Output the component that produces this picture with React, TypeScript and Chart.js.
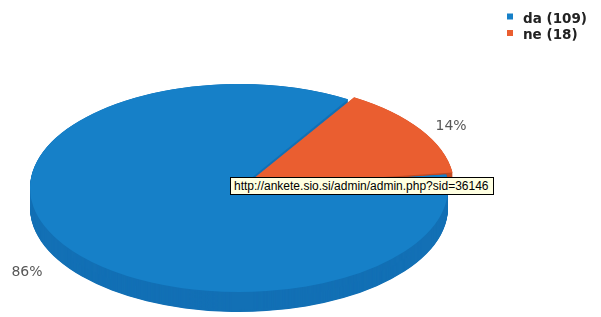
import React, { useEffect, useRef } from "react";
import { Chart, registerables } from "chart.js";

Chart.register(...registerables);

const categories = ["da", "ne"];
const values = [109, 18];
const topColors = ["#1680C8", "#EA5E30"];
const sideColors = ["#1370B5", "#C24B24"];
const tooltipText = "http://ankete.sio.si/admin/admin.php?sid=36146";

const CX = 239;
const CY = 188;
const RX = 209;
const RY = 104;
const DEPTH = 20;
const S = RY / RX;

function effOffset(arc: any) {
  const off = (arc.options.offset || 0) / 4;
  const circ = arc.endAngle - arc.startAngle;
  const fix = 1 - Math.sin(Math.min(Math.PI, circ || 0));
  return off + off * fix;
}

const pie3d = {
  id: "pie3d",
  beforeDatasetsDraw(chart: any) {
    const ctx = chart.ctx;
    const meta = chart.getDatasetMeta(0);
    const a0 = meta.data[0];
    ctx.save();
    ctx.translate(CX, CY);
    ctx.scale(1, S);
    ctx.translate(-a0.x, -a0.y);
    const depthU = DEPTH / S;
    for (let i = meta.data.length - 1; i >= 0; i--) {
      const arc = meta.data[i];
      const half = (arc.startAngle + arc.endAngle) / 2;
      const eo = effOffset(arc);
      const ox = Math.cos(half) * eo;
      const oy = Math.sin(half) * eo;
      ctx.fillStyle = sideColors[i];
      for (let d = depthU; d > 0; d -= 1) {
        ctx.beginPath();
        ctx.moveTo(arc.x + ox, arc.y + oy + d);
        ctx.arc(arc.x + ox, arc.y + oy + d, arc.outerRadius, arc.startAngle, arc.endAngle);
        ctx.closePath();
        ctx.fill();
      }
    }
  },
  afterDatasetsDraw(chart: any) {
    chart.ctx.restore();
  },
  afterDraw(chart: any) {
    const ctx = chart.ctx;
    const meta = chart.getDatasetMeta(0);
    const total = values.reduce((a, b) => a + b, 0);
    ctx.save();
    ctx.font = "14px 'DejaVu Sans'";
    ctx.fillStyle = "#585858";
    ctx.textAlign = "center";
    ctx.textBaseline = "middle";
    meta.data.forEach((arc: any, i: number) => {
      const mid = (arc.startAngle + arc.endAngle) / 2;
      const x = CX + Math.cos(mid) * RX * 1.21;
      const y = CY + Math.sin(mid) * RY * 1.08 + (Math.sin(mid) > 0 ? DEPTH + 3 : 0);
      ctx.fillText(Math.round((values[i] / total) * 100) + "%", x, y);
    });
    // legend
    ctx.textAlign = "left";
    ctx.textBaseline = "alphabetic";
    ctx.font = "bold 13.5px 'DejaVu Sans'";
    categories.forEach((c, i) => {
      const yc = 16.5 + i * 16.5;
      ctx.fillStyle = topColors[i];
      ctx.fillRect(507, yc - 3, 6, 6);
      ctx.fillStyle = "#222";
      ctx.fillText(`${c} (${values[i]})`, 523, yc + 6);
    });
    ctx.restore();
  },
};

export default function App() {
  const ref = useRef<HTMLCanvasElement | null>(null);
  useEffect(() => {
    if (!ref.current) return;
    const chart = new Chart(ref.current, {
      type: "pie",
      data: {
        labels: categories.map((c, i) => `${c} (${values[i]})`),
        datasets: [
          {
            data: values,
            backgroundColor: topColors,
            borderWidth: 0,
            offset: [0, 24],
            clip: false,
          } as any,
        ],
      },
      options: {
        responsive: false,
        animation: false,
        events: [],
        rotation: 82.5,
        radius: RX,
        layout: { padding: 0 },
        plugins: {
          legend: { display: false },
          tooltip: { enabled: false },
        },
      } as any,
      plugins: [pie3d],
    });
    return () => chart.destroy();
  }, []);
  return (
    <div style={{ position: "absolute", left: 0, top: 0, width: 601, height: 317, background: "#fff" }}>
      <canvas ref={ref} width={601} height={317} style={{ display: "block" }} />
      <div
        style={{
          position: "absolute",
          left: 230,
          top: 177,
          width: 264,
          height: 18,
          boxSizing: "border-box",
          border: "1px solid #000",
          background: "#FFFFE1",
          fontFamily: "'Liberation Sans', Arial, sans-serif",
          fontSize: 12,
          lineHeight: "16px",
          paddingLeft: 3,
          color: "#000",
          whiteSpace: "nowrap",
          overflow: "hidden",
        }}
      >
        {tooltipText}
      </div>
    </div>
  );
}
